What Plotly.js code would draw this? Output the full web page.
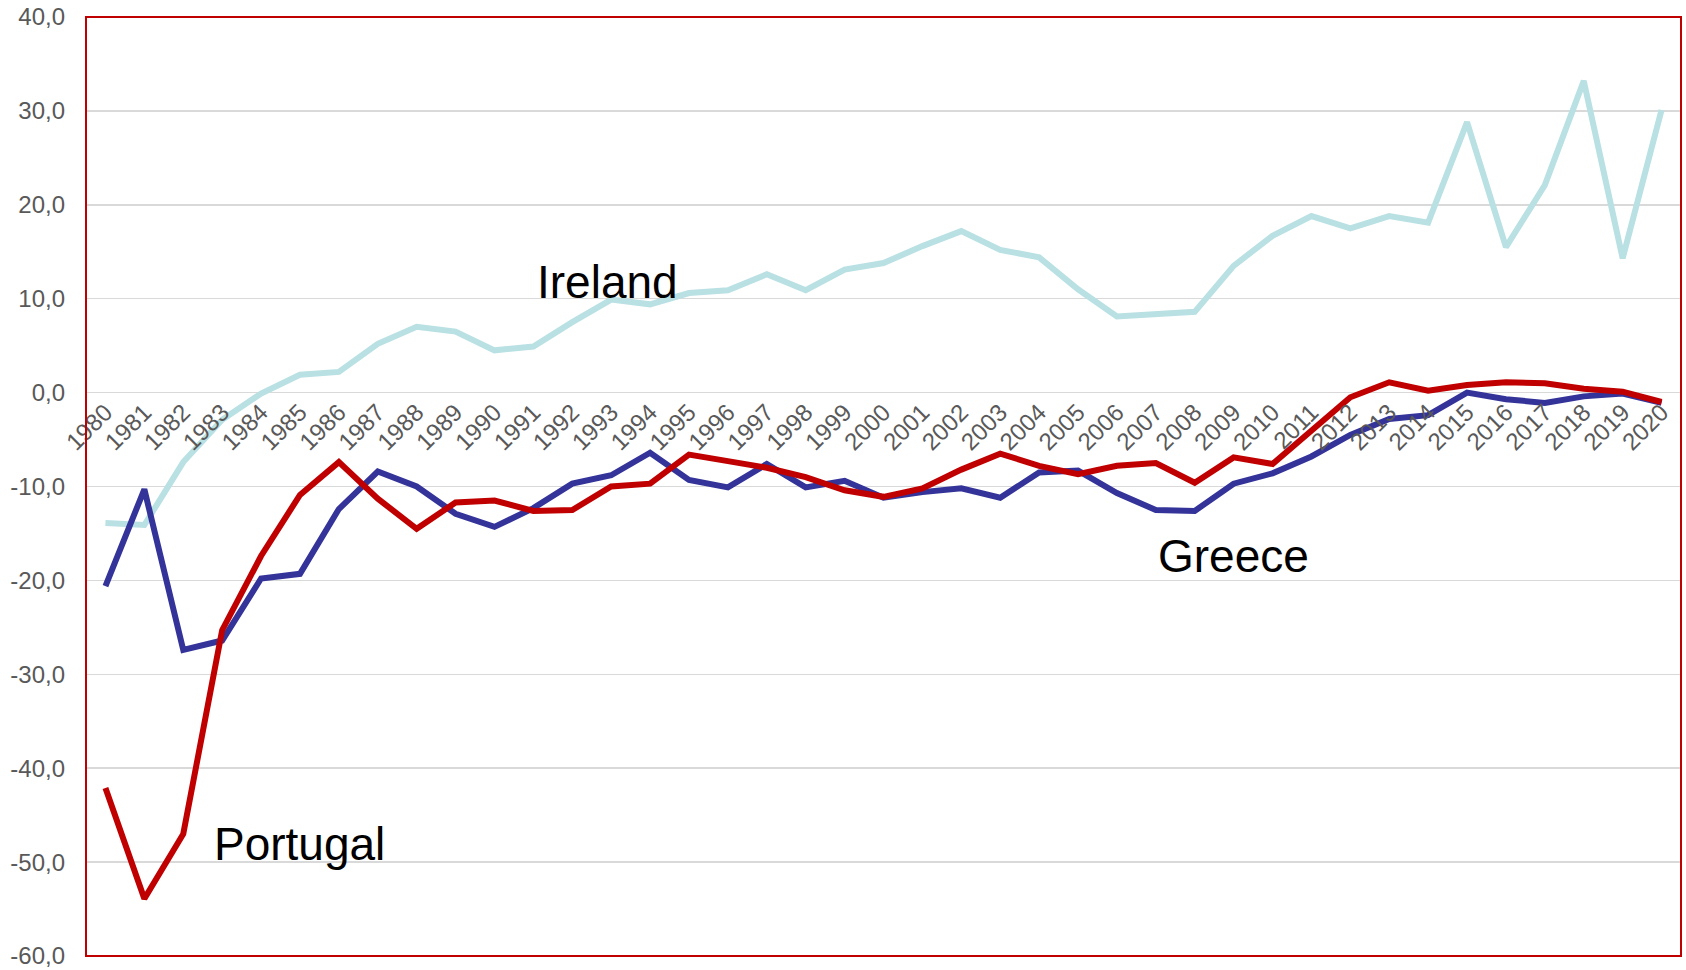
<!DOCTYPE html>
<html>
<head>
<meta charset="utf-8">
<script src="https://cdn.plot.ly/plotly-3.0.1.min.js"></script>
<style>html,body{margin:0;padding:0;background:#fff;}#chart{width:1686px;height:970px;}</style>
</head>
<body>
<div id="chart"></div>
<script>
const years = [1980,1981,1982,1983,1984,1985,1986,1987,1988,1989,1990,1991,1992,1993,1994,1995,1996,1997,1998,1999,2000,2001,2002,2003,2004,2005,2006,2007,2008,2009,2010,2011,2012,2013,2014,2015,2016,2017,2018,2019,2020];
const yearLabels = years.map(String);

const yTickVals = [40,30,20,10,0,-10,-20,-30,-40,-50,-60];
const yTickText = ['40,0','30,0','20,0','10,0','0,0','-10,0','-20,0','-30,0','-40,0','-50,0','-60,0'];

const ireland = [-13.9,-14.1,-7.4,-2.9,-0.1,1.9,2.2,5.2,7.0,6.5,4.5,4.9,7.5,9.9,9.4,10.6,10.9,12.6,10.9,13.1,13.8,15.6,17.2,15.2,14.4,11.0,8.1,8.3,8.6,13.5,16.7,18.8,17.5,18.8,18.1,28.8,15.5,22.1,33.2,14.3,30.1];
const greece = [-20.6,-10.3,-27.4,-26.4,-19.8,-19.3,-12.4,-8.4,-10.0,-12.9,-14.3,-12.3,-9.7,-8.8,-6.4,-9.3,-10.1,-7.6,-10.1,-9.4,-11.2,-10.6,-10.2,-11.2,-8.5,-8.3,-10.7,-12.5,-12.6,-9.7,-8.6,-6.8,-4.5,-2.8,-2.4,0.0,-0.7,-1.1,-0.4,-0.1,-1.1];
const portugal = [-42.1,-53.9,-47.0,-25.3,-17.4,-10.9,-7.4,-11.3,-14.5,-11.7,-11.5,-12.6,-12.5,-10.0,-9.7,-6.6,-7.3,-8.0,-9.0,-10.4,-11.1,-10.2,-8.2,-6.5,-7.8,-8.7,-7.8,-7.5,-9.6,-6.9,-7.6,-4.0,-0.5,1.1,0.2,0.8,1.1,1.0,0.4,0.1,-1.0];

const seriesNames = ['Ireland','Greece','Portugal'];
const seriesColors = ['#B9E0E3','#333399','#C00000'];
const labelX = [1992.9, 2009.0, 1985.0];
const labelY = [11.8, -17.4, -48.1];

const FONT = '"Liberation Sans", Arial, sans-serif';
const traces = [ireland, greece, portugal].map((vals, i) => ({
  type: 'scatter', mode: 'lines', x: years, y: vals, name: seriesNames[i],
  line: {color: seriesColors[i], width: 6}, hoverinfo: 'x+y+name'
}));

const annotations = seriesNames.map((n, i) => ({
  x: labelX[i], y: labelY[i], xref: 'x', yref: 'y', text: n, showarrow: false,
  xanchor: 'center', yanchor: 'middle', font: {family: FONT, size: 46, color: '#000'}
}));

const layout = {
  width: 1686, height: 970,
  margin: {l: 86, r: 5, t: 17, b: 14},
  paper_bgcolor: '#fff', plot_bgcolor: '#fff',
  showlegend: false,
  font: {family: FONT, color: '#595959', size: 24},
  xaxis: {
    range: [1979.5, 2020.5], tickvals: years, ticktext: yearLabels,
    tickangle: -45, anchor: 'free', position: 0.6,
    showgrid: false, zeroline: false, showline: false, ticks: '',
    tickfont: {family: FONT, size: 24, color: '#595959'}
  },
  yaxis: {
    range: [-60, 40], tickvals: yTickVals, ticktext: yTickText,
    showgrid: true, gridcolor: '#D9D9D9', gridwidth: 1.5,
    zeroline: false, showline: false, ticks: '', ticklabelstandoff: 20,
    tickfont: {family: FONT, size: 24, color: '#595959'}
  },
  shapes: [{type: 'rect', xref: 'paper', yref: 'paper', x0: 0, x1: 1, y0: 0, y1: 1,
    line: {color: '#C00000', width: 2}, fillcolor: 'rgba(0,0,0,0)', layer: 'above'}],
  annotations: annotations
};

Plotly.newPlot('chart', traces, layout, {displayModeBar: false, staticPlot: true});
</script>
</body>
</html>
